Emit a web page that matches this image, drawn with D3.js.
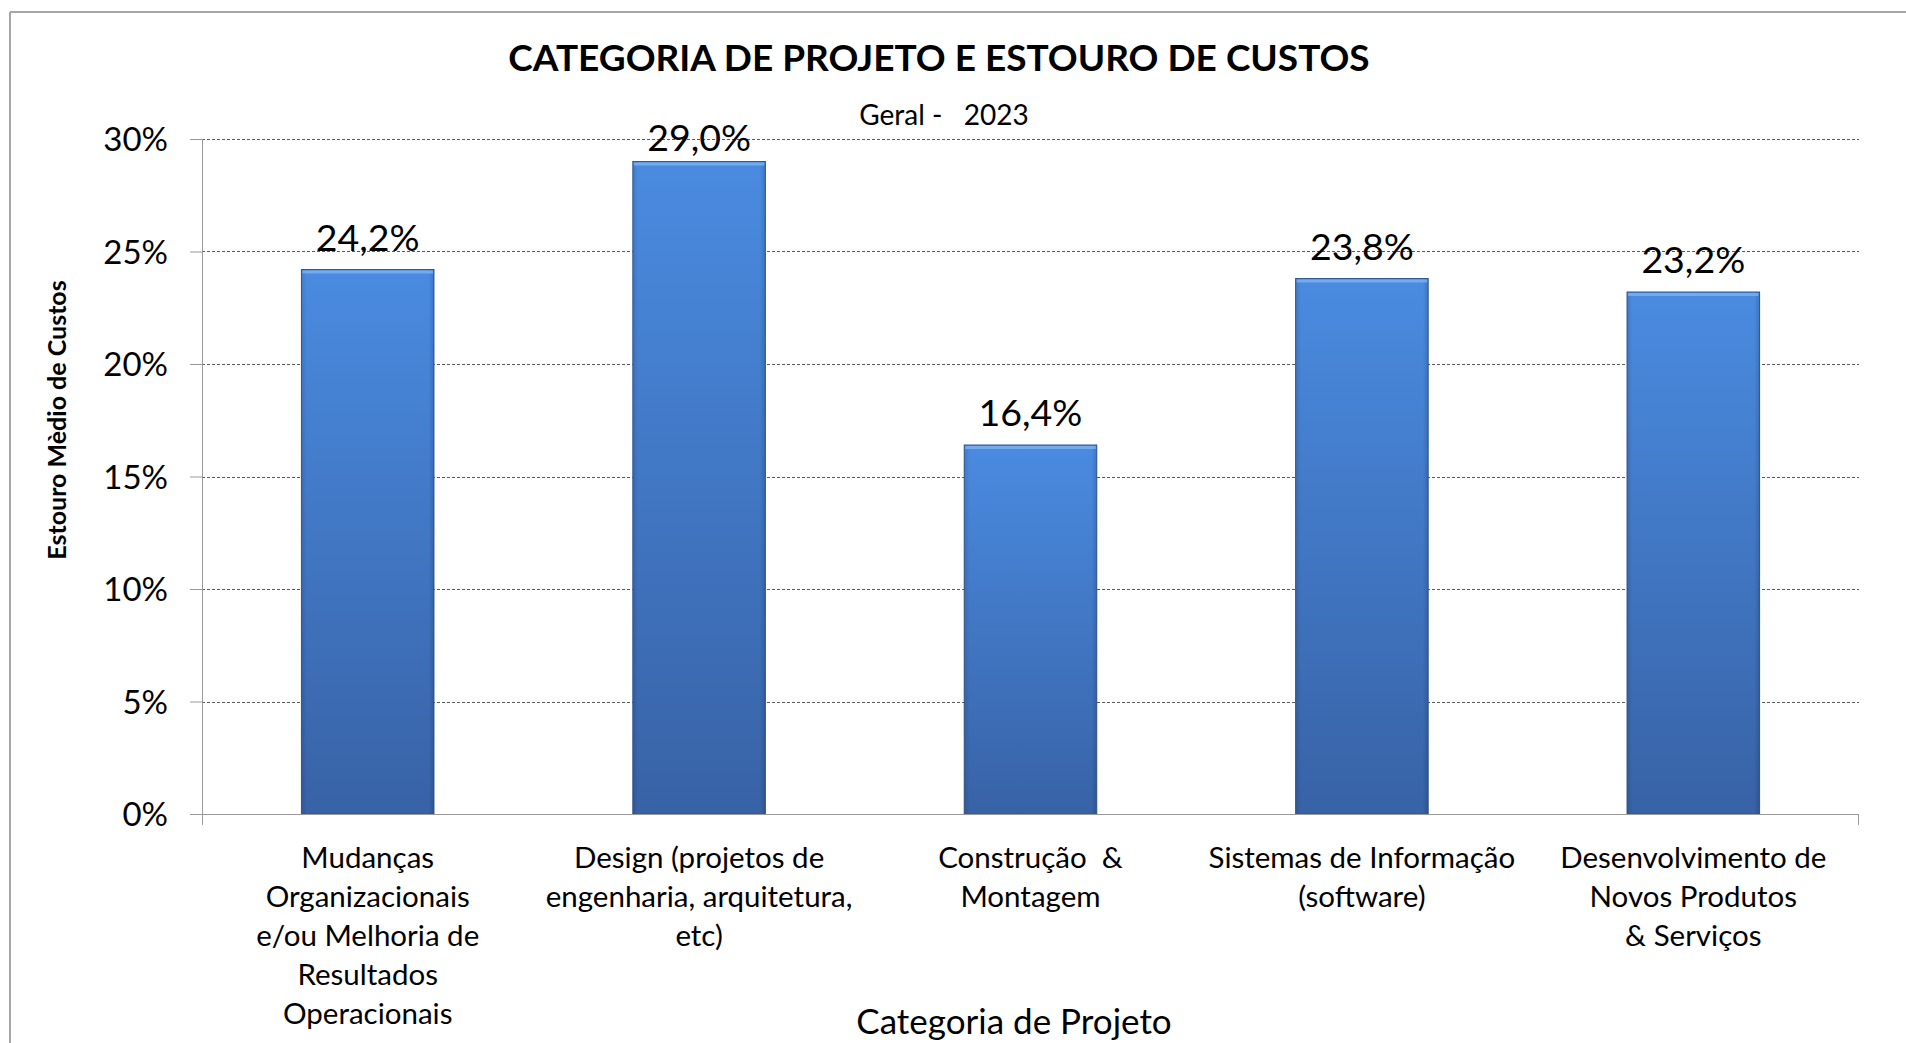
<!DOCTYPE html>
<html>
<head>
<meta charset="utf-8">
<script src="https://cdn.jsdelivr.net/npm/d3@7"></script>
<style>
  html, body { margin: 0; padding: 0; background: #ffffff; }
  svg { display: block; }
  text { font-family: Lato, "Open Sans", sans-serif; fill: #000; }
</style>
</head>
<body>
<svg id="chart" width="1906" height="1043"></svg>
<script>
const categories = [
  ["Mudanças", "Organizacionais", "e/ou Melhoria de", "Resultados", "Operacionais"],
  ["Design (projetos de", "engenharia, arquitetura,", "etc)"],
  ["Construção  &", "Montagem"],
  ["Sistemas de Informação", "(software)"],
  ["Desenvolvimento de", "Novos Produtos", "& Serviços"]
];
const values = [24.2, 29.0, 16.4, 23.8, 23.2];
const valueLabels = ["24,2%", "29,0%", "16,4%", "23,8%", "23,2%"];
const yTicks = [0, 5, 10, 15, 20, 25, 30];
const yTickLabels = ["0%", "5%", "10%", "15%", "20%", "25%", "30%"];
const titleText = "CATEGORIA DE PROJETO E ESTOURO DE CUSTOS";
const subtitleText = "Geral -   2023";
const xAxisTitle = "Categoria de Projeto";
const yAxisTitle = "Estouro Mèdio de Custos";

const svg = d3.select("#chart");
const pLeft = 202, pRight = 1859, pTop = 139, pBottom = 814;

// outer frame (only top and left edges visible)
svg.append("line").attr("x1", 10).attr("x2", 1906).attr("y1", 12).attr("y2", 12)
  .attr("stroke", "#a6a6a6").attr("stroke-width", 2);
svg.append("line").attr("x1", 10).attr("x2", 10).attr("y1", 12).attr("y2", 1043)
  .attr("stroke", "#a6a6a6").attr("stroke-width", 2);

const x = d3.scaleBand().domain(d3.range(categories.length))
  .range([pLeft, pRight]).paddingInner(0.6).paddingOuter(0.3);
const y = d3.scaleLinear().domain([0, 30]).range([pBottom, pTop]);

// gradient
const defs = svg.append("defs");
const grad = defs.append("linearGradient").attr("id", "barGrad")
  .attr("x1", 0).attr("x2", 0).attr("y1", 0).attr("y2", 1);
grad.append("stop").attr("offset", "0%").attr("stop-color", "#4a8be0");
grad.append("stop").attr("offset", "100%").attr("stop-color", "#3862a6");
const hgrad = defs.append("linearGradient").attr("id", "sideGrad")
  .attr("x1", 0).attr("x2", 1).attr("y1", 0).attr("y2", 0);
hgrad.append("stop").attr("offset", "0%").attr("stop-color", "#000").attr("stop-opacity", 0.12);
hgrad.append("stop").attr("offset", "4%").attr("stop-color", "#000").attr("stop-opacity", 0);
hgrad.append("stop").attr("offset", "96%").attr("stop-color", "#000").attr("stop-opacity", 0);
hgrad.append("stop").attr("offset", "100%").attr("stop-color", "#000").attr("stop-opacity", 0.15);

// gridlines
svg.append("g").selectAll("line").data(yTicks.filter(d => d > 0)).join("line")
  .attr("x1", pLeft).attr("x2", pRight)
  .attr("y1", d => Math.round(y(d)) + 0.5).attr("y2", d => Math.round(y(d)) + 0.5)
  .attr("stroke", "#5a5a5a").attr("stroke-width", 1).attr("stroke-dasharray", "3,2");

// y axis
const yAxis = d3.axisLeft(y).tickValues(yTicks).tickSize(12).tickPadding(22)
  .tickFormat((d, i) => yTickLabels[i]);
const gy = svg.append("g").attr("transform", `translate(${pLeft},0)`).call(yAxis);
gy.select(".domain").remove();
gy.selectAll(".tick line").attr("stroke", "#9a9a9a");
gy.selectAll(".tick text").style("font-size", "33px").style("font-family", "Lato, sans-serif")
  .attr("fill", "#000").attr("dy", "0.36em");
svg.append("line").attr("x1", pLeft + 0.5).attr("x2", pLeft + 0.5).attr("y1", pTop).attr("y2", pBottom + 11)
  .attr("stroke", "#9a9a9a");

// bars
const bars = svg.append("g");
bars.selectAll("rect.bar").data(values).join("rect").attr("class", "bar")
  .attr("x", (d, i) => x(i)).attr("width", x.bandwidth())
  .attr("y", d => y(d)).attr("height", d => pBottom - y(d))
  .attr("fill", "url(#barGrad)").attr("stroke", "#2f5a98").attr("stroke-width", 1);
bars.selectAll("rect.side").data(values).join("rect").attr("class", "side")
  .attr("x", (d, i) => x(i)).attr("width", x.bandwidth())
  .attr("y", d => y(d)).attr("height", d => pBottom - y(d))
  .attr("fill", "url(#sideGrad)");
bars.selectAll("rect.hi").data(values).join("rect").attr("class", "hi")
  .attr("x", (d, i) => x(i) + 1).attr("width", x.bandwidth() - 2)
  .attr("y", d => y(d) + 1).attr("height", 3)
  .attr("fill", "#7fb2ee").attr("opacity", 0.8);

// x axis line
svg.append("line").attr("x1", pLeft).attr("x2", pRight).attr("y1", pBottom + 0.5).attr("y2", pBottom + 0.5)
  .attr("stroke", "#9a9a9a");
svg.append("line").attr("x1", pRight - 0.5).attr("x2", pRight - 0.5).attr("y1", pBottom).attr("y2", pBottom + 11)
  .attr("stroke", "#9a9a9a");

// value labels (kept inside the plot area at the top)
svg.append("g").selectAll("text").data(values).join("text")
  .attr("x", (d, i) => x(i) + x.bandwidth() / 2)
  .attr("y", d => Math.max(y(d) - 19, pTop + 12))
  .attr("text-anchor", "middle")
  .style("font-size", "37.5px")
  .text((d, i) => valueLabels[i]);

// category labels
const cat = svg.append("g").selectAll("text").data(categories).join("text")
  .attr("text-anchor", "middle").style("font-size", "29.5px")
  .attr("x", (d, i) => x(i) + x.bandwidth() / 2)
  .attr("y", 868);
cat.selectAll("tspan").data(d => d).join("tspan")
  .attr("x", function () { return d3.select(this.parentNode).attr("x"); })
  .attr("dy", (d, j) => j === 0 ? 0 : 39)
  .style("white-space", "pre")
  .text(d => d);

// titles
svg.append("text").attr("x", 939).attr("y", 71).attr("text-anchor", "middle")
  .style("font-size", "37px").style("font-weight", "bold").text(titleText);
svg.append("text").attr("x", 944).attr("y", 125).attr("text-anchor", "middle")
  .style("font-size", "28px").style("white-space", "pre").text(subtitleText);
svg.append("text").attr("x", 1014).attr("y", 1034).attr("text-anchor", "middle")
  .style("font-size", "35px").text(xAxisTitle);
svg.append("text").attr("transform", "translate(66,420) rotate(-90)").attr("text-anchor", "middle")
  .style("font-size", "25px").style("font-weight", "bold").text(yAxisTitle);
</script>
</body>
</html>
